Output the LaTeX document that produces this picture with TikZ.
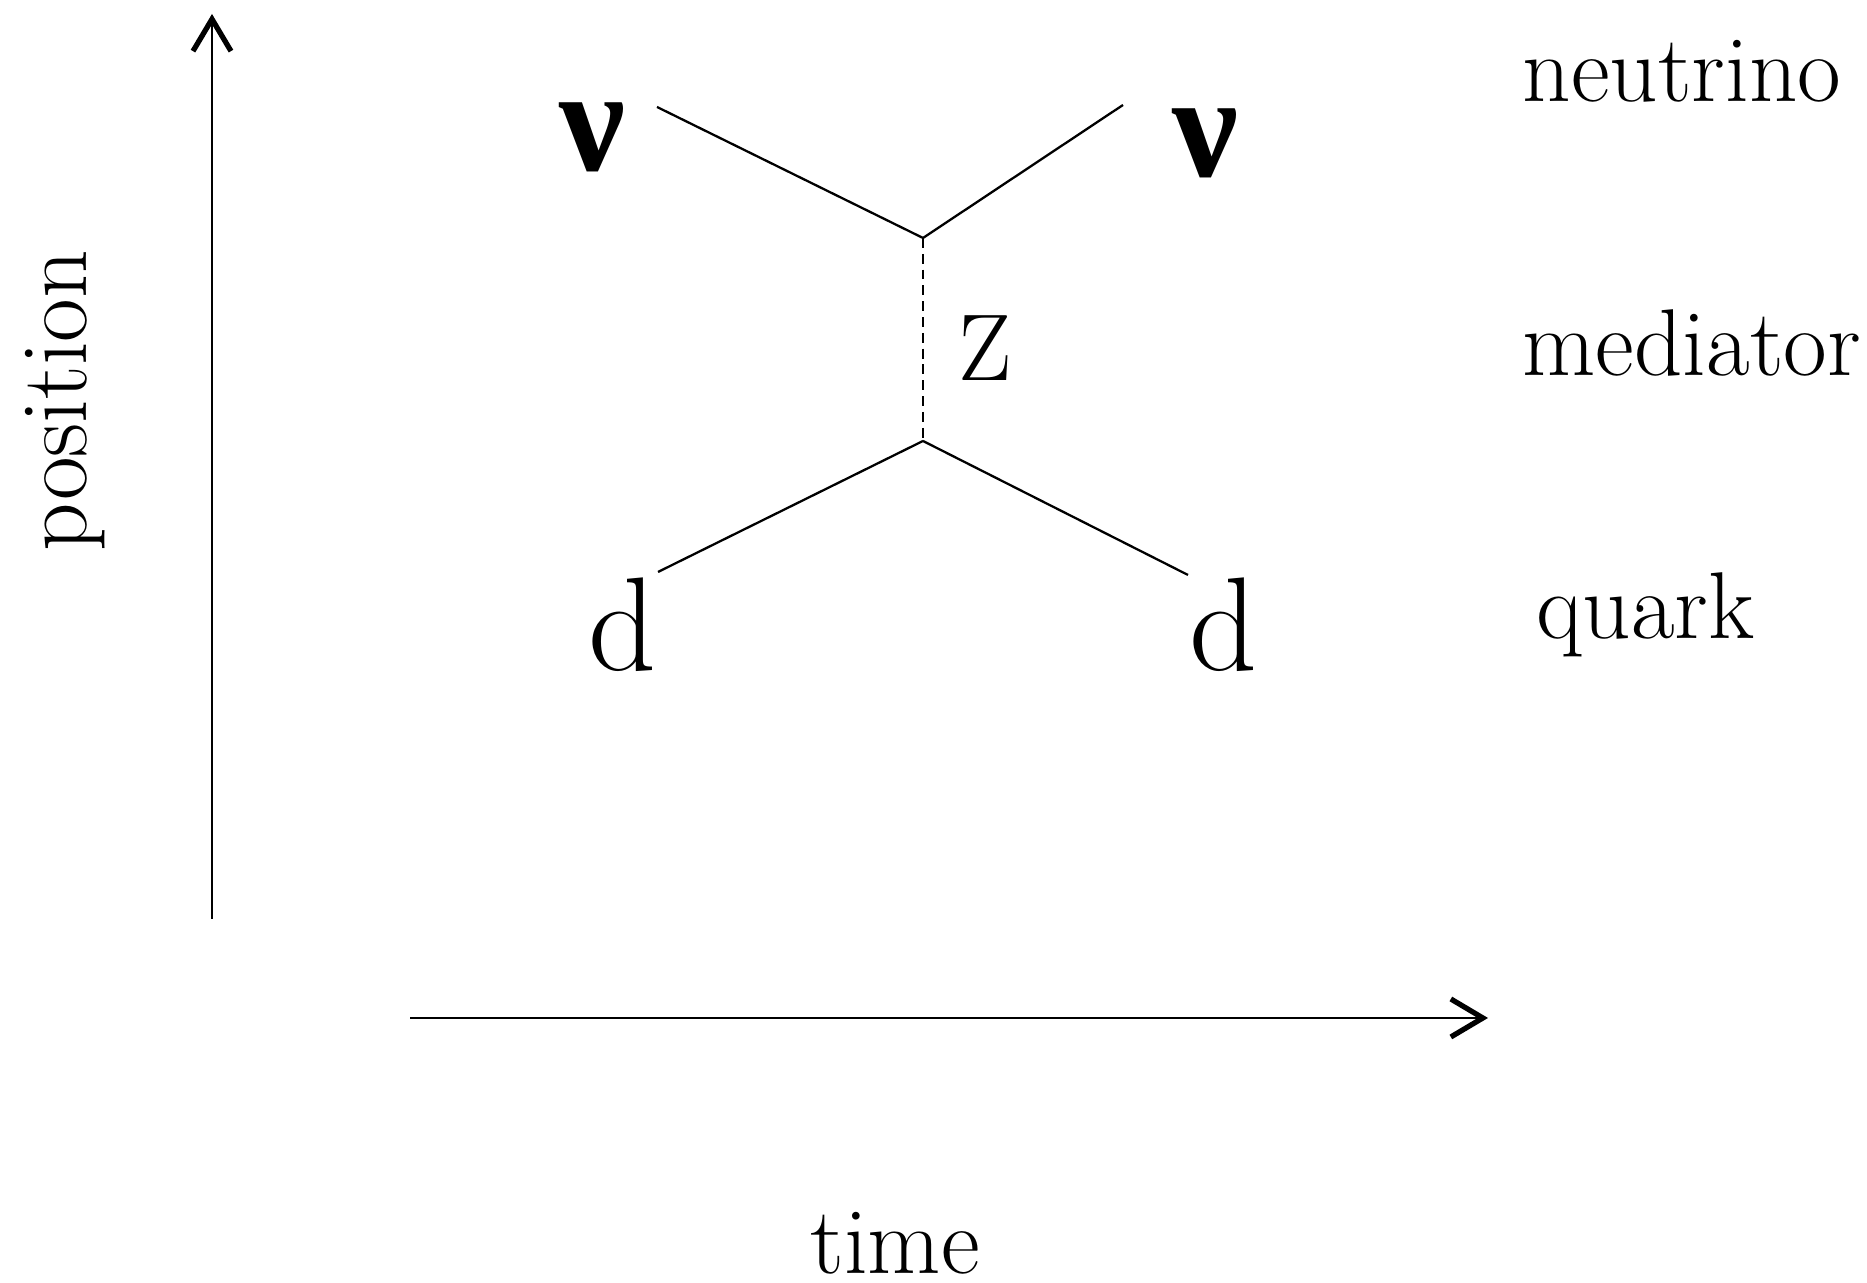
\documentclass[tikz,border=0pt]{standalone}
\usepackage{amsmath}
\usepackage{xcolor}
\usepackage{fontspec}
\usepackage{tikz}
\usetikzlibrary{arrows.meta}
\newfontfamily\greekfont{Liberation Serif}

\begin{document}
\begin{tikzpicture}[
			% Define the styles for labels and lines
			every node/.style={inner sep=0pt, font=\fontsize{27}{30}\selectfont},
			axis/.style={line width=0.8pt, -{Straight Barb[length=3.2mm, width=3.8mm, line width=1.5pt]}},
			fermion/.style={line width=0.65pt},
			boson/.style={line width=0.65pt, dash pattern=on 2.8pt off 1.7pt},
			particle/.style={font=\fontsize{38}{40}\selectfont}
			]

			\useasboundingbox (0, 0) rectangle (18.67, 12.83);

			% axes
			\coordinate (y0) at (2.12, 3.64);
			\coordinate (y1) at (2.12, 12.69);
			\coordinate (x0) at (4.10, 2.65);
			\coordinate (x1) at (14.88, 2.65);
			\draw[axis] (y0)--(y1);
			\draw[axis] (x0)--(x1);
			\node (pos) at (0.65, 8.82) [rotate=90] {position};
			\node (time) at (8.95, 0.40) {time};

			% vertices and free ends
			\coordinate (top) at (9.23, 10.45);
			\coordinate (bot) at (9.23, 8.42);
			\coordinate (nuin) at (6.57, 11.76);
			\coordinate (nuout) at (11.23, 11.78);
			\coordinate (din) at (6.58, 7.11);
			\coordinate (dout) at (11.88, 7.08);

			\draw[fermion] (nuin)--(top);
			\draw[fermion] (top)--(nuout);
			\draw[boson] (top)--(bot);
			\draw[fermion] (din)--(bot);
			\draw[fermion] (bot)--(dout);

			% particle labels
			\node (nu1) at (5.92, 11.46) [particle] {\greekfont\bfseries\fontsize{42}{44}\selectfont ν};
			\node (nu2) at (12.05, 11.40) [particle] {\greekfont\bfseries\fontsize{42}{44}\selectfont ν};
			\node (z) at (9.85, 9.35) {Z};
			\node (d1) at (6.23, 6.58) [particle] {d};
			\node (d2) at (12.24, 6.58) [particle] {d};

			% row labels
			\node (neutrino) at (15.22, 11.81) [anchor=base west] {neutrino};
			\node (mediator) at (15.22, 9.07) [anchor=base west] {mediator};
			\node (quark) at (15.36, 6.44) [anchor=base west] {quark};

		\end{tikzpicture}
\end{document}
